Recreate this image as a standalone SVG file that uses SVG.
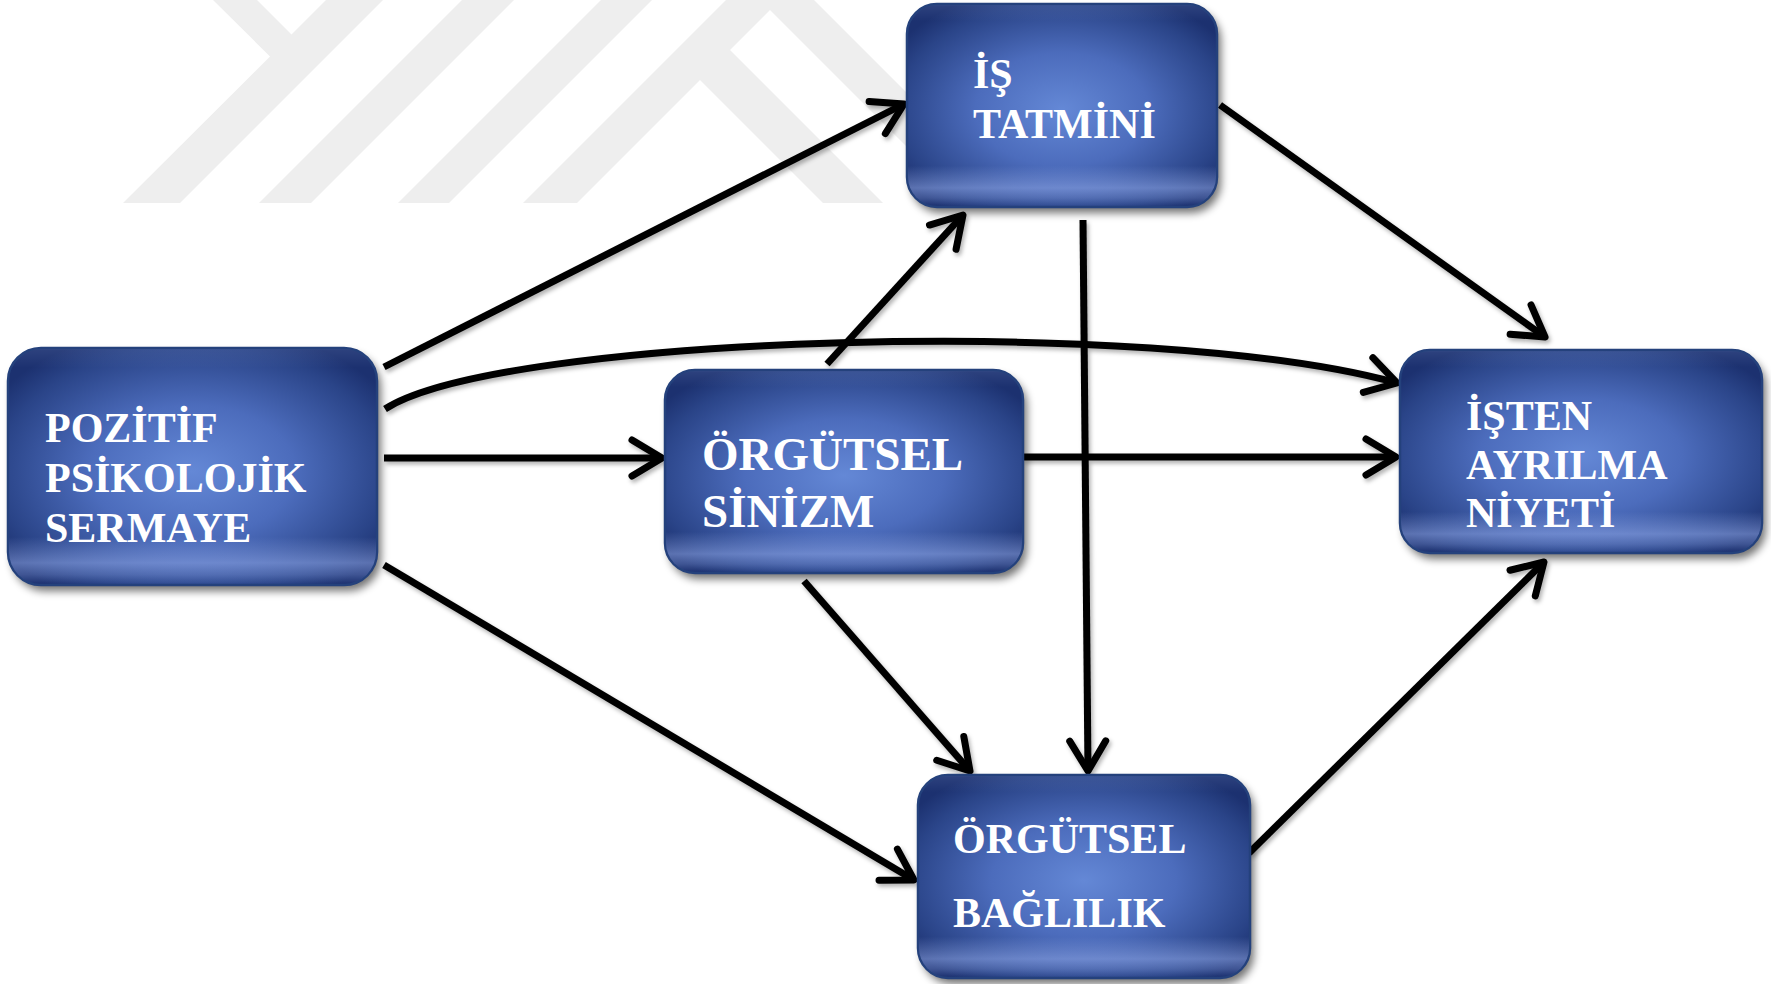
<svg xmlns="http://www.w3.org/2000/svg" width="1771" height="984" viewBox="0 0 1771 984">
<defs>
<radialGradient id="boxFill" cx="50%" cy="52%" r="62%">
<stop offset="0" stop-color="#6488d6"/>
<stop offset="0.45" stop-color="#4c6cbc"/>
<stop offset="0.85" stop-color="#2a4488"/>
<stop offset="1" stop-color="#1c3170"/>
</radialGradient>
<linearGradient id="boxSheen" x1="0" y1="0" x2="0" y2="1">
<stop offset="0" stop-color="#c8d8ff" stop-opacity="0.10"/>
<stop offset="0.08" stop-color="#c8d8ff" stop-opacity="0"/>
<stop offset="0.80" stop-color="#a8c0ff" stop-opacity="0"/>
<stop offset="0.91" stop-color="#a8c0ff" stop-opacity="0.45"/>
<stop offset="0.96" stop-color="#a8c0ff" stop-opacity="0.25"/>
<stop offset="1" stop-color="#a8c0ff" stop-opacity="0"/>
</linearGradient>
<filter id="boxShadow" x="-10%" y="-10%" width="125%" height="130%">
<feGaussianBlur stdDeviation="4"/>
</filter>
<filter id="lineShadow" x="-5%" y="-5%" width="110%" height="110%">
<feDropShadow dx="2" dy="3" stdDeviation="2" flood-color="#000" flood-opacity="0.3"/>
</filter>
<marker id="arrow" markerUnits="userSpaceOnUse" markerWidth="50" markerHeight="50" viewBox="-40 -25 50 50" refX="0" refY="0" orient="auto">
<path d="M-30,-18 L0,0 L-30,18" fill="none" stroke="#000" stroke-width="7" stroke-linecap="round" stroke-linejoin="round"/>
</marker>
</defs>
<style>
.wm{fill:#eeeeee}
.shadow{fill:#000;opacity:0.55}
.box{fill:url(#boxFill);stroke:#24417c;stroke-width:2.5}
.sheen{fill:url(#boxSheen)}
.lbl{font-family:"Liberation Serif","Times New Roman",serif;font-weight:bold;fill:#ffffff}
.conn{fill:none;stroke:#000;stroke-width:7;stroke-linecap:butt;marker-end:url(#arrow)}
</style>
<rect width="1771" height="984" fill="#ffffff"/>
<g id="watermark">
<polygon class="wm" points="213,0 257,0 291.5,34.5 326,0 383,0 180,203 123,203 270,56.5"/>
<polygon class="wm" points="462,0 514,0 311,203 259,203"/>
<polygon class="wm" points="601,0 652,0 449,203 398,203"/>
<polygon class="wm" points="726,0 814,0 1017,203 963,203 770,10 730,50 883,203 823,203 700,80 577,203 523,203"/>
</g>
<g id="connectors" filter="url(#lineShadow)">
<path class="conn" d="M384,367 L904,104"/>
<path class="conn" d="M385,409 C500,335 1150,315 1397,383"/>
<path class="conn" d="M384,458 L662,458"/>
<path class="conn" d="M384,565 L914,880"/>
<path class="conn" d="M827,364 L963,215"/>
<path class="conn" d="M1083,220 L1088,771"/>
<path class="conn" d="M804,581 L970,771"/>
<path class="conn" d="M1023,457 L1396,457"/>
<path class="conn" d="M1220,105 L1545,337"/>
<path class="conn" d="M1249,853 L1544,562"/>
</g>
<g id="node-is-tatmini">
<rect class="shadow" x="911" y="10" width="310" height="203" rx="30" filter="url(#boxShadow)"/>
<rect class="box" x="907" y="4" width="310" height="203" rx="30"/>
<rect class="sheen" x="908" y="5" width="308" height="201" rx="29"/>
<text class="lbl" x="973" y="88" font-size="42">İŞ</text>
<text class="lbl" x="973" y="138" font-size="42">TATMİNİ</text>
</g>
<g id="node-pozitif">
<rect class="shadow" x="12" y="354" width="369" height="237" rx="33" filter="url(#boxShadow)"/>
<rect class="box" x="8" y="348" width="369" height="237" rx="33"/>
<rect class="sheen" x="9" y="349" width="367" height="235" rx="32"/>
<text class="lbl" x="45" y="442" font-size="42">POZİTİF</text>
<text class="lbl" x="45" y="492" font-size="42">PSİKOLOJİK</text>
<text class="lbl" x="45" y="542" font-size="42">SERMAYE</text>
</g>
<g id="node-sinizm">
<rect class="shadow" x="669" y="376" width="358" height="203" rx="30" filter="url(#boxShadow)"/>
<rect class="box" x="665" y="370" width="358" height="203" rx="30"/>
<rect class="sheen" x="666" y="371" width="356" height="201" rx="29"/>
<text class="lbl" x="702" y="470" font-size="47">ÖRGÜTSEL</text>
<text class="lbl" x="702" y="527" font-size="47">SİNİZM</text>
</g>
<g id="node-isten-ayrilma">
<rect class="shadow" x="1404" y="356" width="362" height="203" rx="30" filter="url(#boxShadow)"/>
<rect class="box" x="1400" y="350" width="362" height="203" rx="30"/>
<rect class="sheen" x="1401" y="351" width="360" height="201" rx="29"/>
<text class="lbl" x="1466" y="430" font-size="42">İŞTEN</text>
<text class="lbl" x="1466" y="479" font-size="42">AYRILMA</text>
<text class="lbl" x="1466" y="527" font-size="42">NİYETİ</text>
</g>
<g id="node-baglilik">
<rect class="shadow" x="922" y="781" width="332" height="203" rx="30" filter="url(#boxShadow)"/>
<rect class="box" x="918" y="775" width="332" height="203" rx="30"/>
<rect class="sheen" x="919" y="776" width="330" height="201" rx="29"/>
<text class="lbl" x="953" y="853" font-size="42">ÖRGÜTSEL</text>
<text class="lbl" x="953" y="927" font-size="42">BAĞLILIK</text>
</g>
</svg>
